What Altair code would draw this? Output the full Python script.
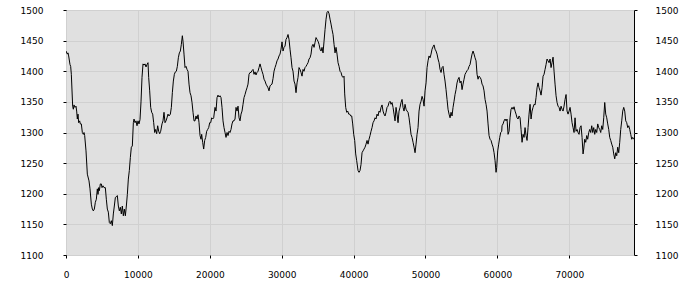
import altair as alt
import pandas as pd

steps = [0, 185, 278, 371, 556, 649, 742, 927, 1020, 1113, 1252, 1391, 1484, 1577, 1669, 1762, 1901, 1994, 2133, 2272, 2411, 2504, 2597, 2782, 2968, 3200, 3339, 3524, 3663, 3802, 3941, 4081, 4220, 4359, 4452, 4544, 4637, 4776, 4915, 5008, 5147, 5286, 5472, 5611, 5750, 5889, 6028, 6167, 6306, 6445, 6584, 6723, 6863, 7002, 7141, 7280, 7419, 7558, 7697, 7836, 7975, 8114, 8254, 8393, 8532, 8671, 8810, 8949, 9088, 9227, 9367, 9460, 9599, 9738, 9877, 10016, 10155, 10294,
         10432, 10571, 10711, 10850, 10989, 11128, 11267, 11406, 11499, 11638, 11777, 11916, 12055, 12194, 12334, 12473, 12612, 12751, 12890, 13029, 13168, 13354, 13493, 13632, 13771, 13910, 14049, 14188, 14327, 14513, 14652, 14791, 14930, 15069, 15208, 15348, 15487, 15626, 15765, 15904, 16043, 16182, 16275, 16414, 16553, 16692, 16831, 16970, 17110, 17249, 17388, 17527, 17666, 17805, 17944, 18083, 18222, 18362, 18501, 18640, 18779, 18872, 19011, 19150, 19289, 19428, 19567, 19706, 19846, 19985, 20124, 20263, 20402, 20541,
         20726, 20865, 21004, 21143, 21282, 21421, 21560, 21699, 21838, 21977, 22117, 22256, 22395, 22534, 22673, 22812, 22951, 23090, 23229, 23369, 23508, 23647, 23786, 23925, 24064, 24203, 24342, 24482, 24621, 24760, 24899, 25038, 25177, 25316, 25455, 25594, 25734, 25873, 26012, 26151, 26290, 26429, 26568, 26707, 26846, 26986, 27125, 27264, 27403, 27542, 27681, 27820, 27959, 28098, 28237, 28376, 28516, 28655, 28794, 28933, 29072, 29211, 29350, 29489, 29628, 29768, 29907, 30046,
         30185, 30324, 30463, 30602, 30741, 30881, 31020, 31159, 31298, 31437, 31576, 31715, 31854, 31993, 32133, 32272, 32411, 32550, 32689, 32828, 32967, 33106, 33245, 33385, 33524, 33663, 33802, 33941, 34080, 34219, 34358, 34498, 34637, 34776, 34915, 35054, 35193, 35332, 35471, 35610, 35750, 35889, 36028, 36167, 36306, 36445, 36584, 36723, 36862, 37001, 37140, 37280, 37419, 37558, 37697, 37836, 37975, 38114, 38253, 38393, 38532, 38671, 38763, 38902, 39041, 39181, 39320, 39459, 39598, 39737, 39876, 40015, 40154, 40293, 40432,
         40617, 40757, 40896, 41035, 41174, 41313, 41452, 41591, 41730, 41869, 42009, 42148, 42287, 42426, 42565, 42704, 42843, 42982, 43121, 43261, 43400, 43539, 43678, 43817, 43956, 44095, 44234, 44373, 44513, 44652, 44791, 44930, 45069, 45208, 45347, 45486, 45625, 45765, 45904, 46043, 46182, 46321, 46460, 46599, 46738, 46877, 47017, 47156, 47295, 47434, 47573, 47712, 47851, 47990, 48129, 48269, 48408, 48547, 48686, 48825, 48964, 49103, 49242, 49381, 49521, 49660, 49799, 49938, 50077, 50216, 50355, 50494, 50633,
         50772, 50911, 51050, 51189, 51328, 51467, 51606, 51745, 51884, 52024, 52163, 52302, 52441, 52580, 52719, 52858, 52997, 53136, 53276, 53415, 53554, 53693, 53832, 53971, 54110, 54249, 54388, 54528, 54667, 54806, 54945, 55084, 55223, 55362, 55501, 55640, 55780, 55919, 56058, 56197, 56336, 56475, 56614, 56753, 56892, 57032, 57171, 57310, 57449, 57588, 57727, 57866, 58005, 58144, 58283, 58423, 58562, 58701, 58840, 58979, 59118, 59257, 59396, 59535, 59675, 59814, 59906, 60045, 60184, 60324, 60463, 60602,
         60647, 60787, 60926, 61065, 61204, 61343, 61482, 61621, 61760, 61899, 62039, 62178, 62317, 62456, 62595, 62734, 62873, 63012, 63151, 63291, 63430, 63569, 63708, 63847, 63986, 64125, 64264, 64403, 64543, 64682, 64821, 64960, 65099, 65238, 65377, 65516, 65655, 65795, 65934, 66073, 66212, 66351, 66490, 66629, 66768, 66907, 67047, 67186, 67325, 67464, 67603, 67742, 67881, 68020, 68159, 68299, 68438, 68577, 68716, 68855, 68994, 69133, 69272, 69411, 69551, 69690, 69829, 69968, 70107, 70246, 70385, 70524, 70663,
         70802, 70941, 71080, 71219, 71358, 71497, 71636, 71775, 71914, 72007, 72146, 72285, 72424, 72563, 72703, 72842, 72981, 73120, 73259, 73398, 73537, 73676, 73816, 73955, 74094, 74233, 74372, 74511, 74650, 74789, 74928, 75068, 75207, 75346, 75485, 75624, 75763, 75902, 76041, 76180, 76320, 76459, 76598, 76737, 76876, 77015, 77154, 77293, 77432, 77572, 77711, 77850, 77989, 78128, 78267, 78406, 78545, 78684, 78823, 78962]

values = [1433, 1428, 1430, 1425, 1411, 1408, 1395, 1343, 1338, 1345, 1341, 1343, 1335, 1322, 1330, 1316, 1319, 1314, 1314, 1300, 1297, 1300, 1295, 1270, 1232, 1221, 1208, 1183, 1175, 1172, 1175, 1186, 1191, 1208, 1199, 1210, 1205, 1216, 1216, 1210, 1213, 1210, 1210, 1191, 1175, 1170, 1153, 1151, 1156, 1148, 1167, 1180, 1194, 1195, 1197, 1180, 1172, 1178, 1167, 1180, 1164, 1175, 1164, 1180, 1199, 1224, 1238, 1259, 1276, 1278, 1316, 1322, 1316, 1319, 1311, 1319, 1314, 1321,
          1350, 1390, 1412, 1410, 1412, 1407, 1411, 1414, 1390, 1368, 1341, 1333, 1330, 1316, 1300, 1305, 1298, 1311, 1302, 1298, 1302, 1314, 1319, 1333, 1316, 1319, 1324, 1330, 1327, 1330, 1341, 1365, 1384, 1395, 1399, 1400, 1408, 1422, 1430, 1433, 1444, 1458, 1449, 1428, 1406, 1408, 1403, 1400, 1379, 1365, 1360, 1349, 1333, 1319, 1319, 1327, 1322, 1329, 1316, 1295, 1289, 1297, 1284, 1273, 1287, 1292, 1302, 1305, 1308, 1316, 1316, 1324, 1322, 1324,
          1341, 1335, 1357, 1361, 1358, 1360, 1357, 1341, 1319, 1308, 1300, 1292, 1300, 1295, 1302, 1300, 1305, 1314, 1319, 1319, 1322, 1341, 1335, 1343, 1324, 1319, 1330, 1335, 1346, 1357, 1362, 1368, 1373, 1379, 1395, 1398, 1398, 1401, 1403, 1395, 1399, 1394, 1398, 1400, 1406, 1412, 1406, 1400, 1395, 1387, 1384, 1379, 1376, 1373, 1368, 1376, 1378, 1379, 1388, 1400, 1406, 1411, 1417, 1420, 1425, 1428, 1436, 1448,
          1433, 1439, 1441, 1452, 1455, 1460, 1452, 1436, 1422, 1406, 1400, 1384, 1379, 1365, 1381, 1390, 1406, 1403, 1398, 1392, 1403, 1400, 1406, 1408, 1411, 1414, 1420, 1422, 1428, 1441, 1444, 1439, 1447, 1455, 1452, 1449, 1444, 1436, 1433, 1439, 1430, 1449, 1468, 1485, 1496, 1498, 1494, 1485, 1477, 1468, 1460, 1444, 1430, 1439, 1428, 1414, 1408, 1400, 1398, 1392, 1390, 1392, 1363, 1341, 1333, 1335, 1330, 1330, 1327, 1327, 1314, 1297, 1287, 1265, 1254,
          1238, 1235, 1238, 1248, 1267, 1270, 1273, 1276, 1281, 1287, 1281, 1289, 1295, 1302, 1308, 1316, 1319, 1324, 1322, 1330, 1327, 1335, 1333, 1341, 1345, 1335, 1330, 1327, 1333, 1341, 1343, 1349, 1351, 1346, 1349, 1341, 1330, 1319, 1341, 1330, 1316, 1335, 1341, 1349, 1354, 1341, 1335, 1346, 1338, 1335, 1333, 1324, 1311, 1297, 1292, 1284, 1276, 1267, 1281, 1297, 1308, 1335, 1346, 1351, 1359, 1354, 1343, 1368, 1381, 1406, 1417, 1425, 1422,
          1428, 1436, 1440, 1443, 1436, 1433, 1428, 1420, 1414, 1403, 1398, 1406, 1408, 1395, 1384, 1370, 1354, 1338, 1330, 1324, 1333, 1327, 1341, 1351, 1362, 1370, 1381, 1387, 1390, 1381, 1384, 1370, 1379, 1387, 1395, 1398, 1401, 1403, 1408, 1411, 1420, 1428, 1433, 1428, 1422, 1417, 1395, 1387, 1392, 1390, 1387, 1379, 1376, 1368, 1354, 1346, 1335, 1314, 1295, 1289, 1287, 1281, 1276, 1267, 1254, 1235, 1243, 1270, 1281, 1292, 1300, 1302,
          1311, 1314, 1319, 1322, 1319, 1322, 1297, 1302, 1324, 1338, 1341, 1338, 1342, 1335, 1330, 1324, 1322, 1327, 1324, 1305, 1284, 1297, 1292, 1308, 1295, 1287, 1308, 1330, 1346, 1322, 1335, 1341, 1346, 1345, 1357, 1373, 1381, 1373, 1368, 1361, 1373, 1392, 1395, 1403, 1411, 1420, 1417, 1414, 1420, 1406, 1414, 1423, 1400, 1379, 1360, 1349, 1343, 1341, 1335, 1343, 1338, 1335, 1343, 1354, 1362, 1335, 1330, 1335, 1341, 1330, 1316, 1308, 1300,
          1324, 1302, 1305, 1300, 1297, 1308, 1311, 1292, 1265, 1273, 1289, 1284, 1295, 1289, 1300, 1305, 1300, 1311, 1300, 1308, 1297, 1305, 1300, 1314, 1308, 1305, 1300, 1311, 1305, 1324, 1349, 1330, 1324, 1314, 1305, 1292, 1287, 1281, 1276, 1265, 1257, 1267, 1262, 1276, 1267, 1284, 1305, 1319, 1335, 1341, 1335, 1319, 1316, 1308, 1311, 1305, 1297, 1289, 1292, 1289]

x_ticks = [0, 10000, 20000, 30000, 40000, 50000, 60000, 70000]
y_ticks = [1100, 1150, 1200, 1250, 1300, 1350, 1400, 1450, 1500]

df = pd.DataFrame({"step": steps, "value": values})

FONT = "DejaVu Sans"
xscale = alt.Scale(domain=[0, 79000], nice=False, zero=False)
yscale = alt.Scale(domain=[1100, 1500], nice=False, zero=False)

common = dict(title=None, domain=False, tickSize=3, tickColor="#000000",
              labelFont=FONT, labelFontSize=9, labelColor="#000000",
              labelFlush=False, labelOverlap=False)

x_axis = alt.Axis(values=x_ticks, format="d", grid=True, gridColor="#d0d0d0",
                  labelPadding=12, **common)

line = alt.Chart(df).mark_line(color="#000000", strokeWidth=1, clip=True).encode(
    x=alt.X("step:Q", scale=xscale, axis=x_axis),
    y=alt.Y("value:Q", scale=yscale,
            axis=alt.Axis(orient="left", values=y_ticks, format="d", grid=True,
                          gridColor="#d0d0d0", labelPadding=20, **common)),
)

right = alt.Chart(df).mark_line(opacity=0).encode(
    x=alt.X("step:Q", scale=xscale, axis=x_axis),
    y=alt.Y("value:Q", scale=yscale,
            axis=alt.Axis(orient="right", values=y_ticks, format="d", grid=False,
                          labelPadding=18, **common)),
)

chart = alt.layer(line, right).resolve_axis(y="independent").properties(
    width=568, height=245,
    autosize=alt.AutoSizeParams(type="none"),
    padding={"left": 66, "top": 10, "right": 66, "bottom": 45},
).configure_view(fill="#e0e0e0", stroke="#000000", strokeWidth=1)

chart.save("out.html", embed_options={"renderer": "svg", "actions": False})
